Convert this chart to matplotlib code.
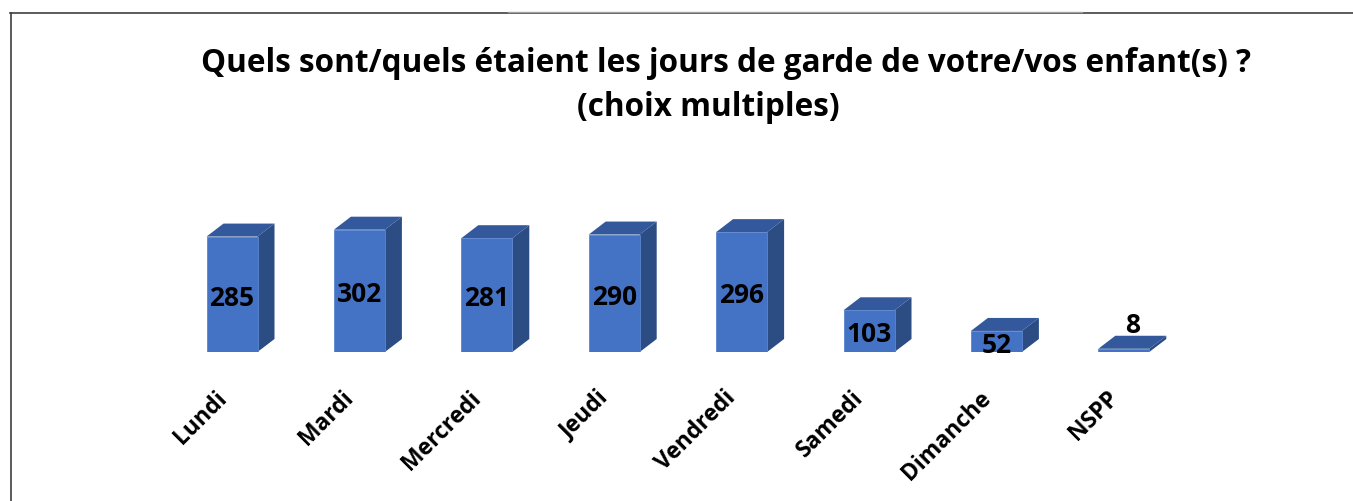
import matplotlib
matplotlib.use("Agg")
import matplotlib.pyplot as plt
from matplotlib.lines import Line2D
from matplotlib.transforms import ScaledTranslation

plt.rcParams["font.family"] = ["Open Sans", "DejaVu Sans"]
plt.rcParams["font.weight"] = "bold"

# data
days = ["Lundi", "Mardi", "Mercredi", "Jeudi", "Vendredi", "Samedi", "Dimanche", "NSPP"]
counts = [285, 302, 281, 290, 296, 103, 52, 8]

title_1 = "Quels sont/quels étaient les jours de garde de votre/vos enfant(s) ?"
title_2 = "(choix multiples)"

# colours of the three visible faces
FRONT = "#4472C4"
TOP = "#33599C"
SIDE = "#2C4C84"

W, H = 1353, 502
fig = plt.figure(figsize=(W / 100, H / 100), dpi=100)

# axes: one category per 127.4 px, 0.405 px per unit
step_px = 127.4
unit_px = 0.405
left_px = 232 - step_px / 2
base_px = H - 353
ymax = 400
ax = fig.add_axes([left_px / W, base_px / H, step_px * len(days) / W, ymax * unit_px / H])
ax.set_xlim(-0.5, len(days) - 0.5)
ax.set_ylim(0, ymax)

bw = 51 / step_px          # front face width
dx = 17 / step_px          # depth, x
dy = 13 / unit_px          # depth, y

x = list(range(len(days)))
ax.bar(x, counts, width=bw, color=FRONT, edgecolor="#5B86D0", linewidth=0.6, zorder=3)
for i, v in zip(x, counts):
    l, r = i - bw / 2, i + bw / 2
    ax.fill([l, r, r + dx, l + dx], [v, v, v + dy, v + dy], color=TOP, lw=0, zorder=2)
    ax.fill([r, r + dx, r + dx, r], [0, dy, v + dy, v], color=SIDE, lw=0, zorder=2)
    if v > 30:
        ax.annotate(str(v), xy=(i, v / 2), xytext=(0, -2), textcoords="offset points",
                    ha="center", va="center", fontsize=19,
                    fontweight="bold", color="black", zorder=4)
    else:
        ax.annotate(str(v), xy=(i + dx / 2, v + dy), xytext=(0, 8),
                    textcoords="offset points", ha="center", va="center",
                    fontsize=19, fontweight="bold", color="black", zorder=4)

ax.set_xticks(x)
ax.set_xticklabels(days, rotation=45, ha="right", va="center",
                   rotation_mode="anchor", fontsize=16.5, fontweight="bold")
ax.tick_params(axis="x", length=0, pad=30)
shift = ScaledTranslation(-9 / 100, 0, fig.dpi_scale_trans)
for lab in ax.get_xticklabels():
    lab.set_transform(lab.get_transform() + shift)
ax.tick_params(axis="y", left=False, labelleft=False)
for s in ax.spines.values():
    s.set_visible(False)
ax.patch.set_alpha(0)

fig.text(726 / W, 1 - 63 / H, title_1, ha="center", va="center",
         fontsize=22.7, fontweight="bold")
fig.text(708 / W, 1 - 107 / H, title_2, ha="center", va="center",
         fontsize=22.7, fontweight="bold")

# frame lines of the chart area
fig.add_artist(Line2D([10 / W, 1], [1 - 14 / H, 1 - 14 / H], color="#404040", lw=1.2))
fig.add_artist(Line2D([508 / W, 1082 / W], [1 - 12.5 / H, 1 - 12.5 / H], color="#A0A0A0", lw=1.0))
fig.add_artist(Line2D([11 / W, 11 / W], [0, 1 - 14 / H], color="#404040", lw=1.2))

fig.savefig("out.png", dpi=100)
